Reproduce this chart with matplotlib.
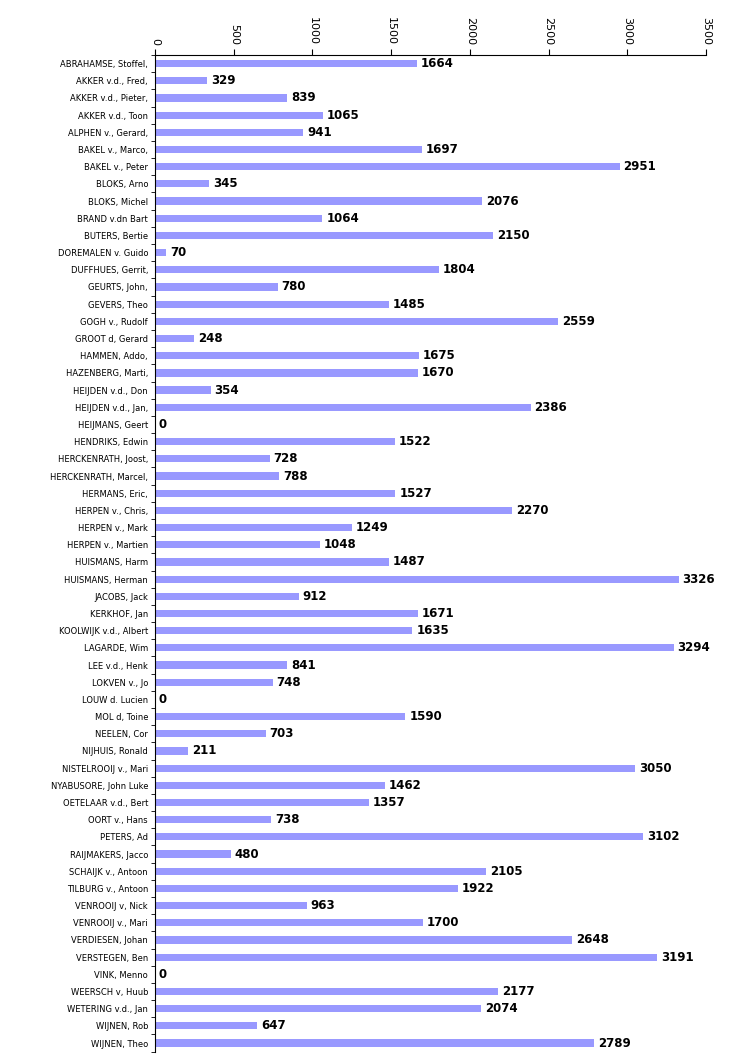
import matplotlib.pyplot as plt
import numpy as np

# Names and values, top to bottom as in the chart
names = [
    'ABRAHAMSE, Stoffel,', 'AKKER v.d., Fred,', 'AKKER v.d., Pieter,', 'AKKER v.d., Toon',
    'ALPHEN v., Gerard,', 'BAKEL v., Marco,', 'BAKEL v., Peter', 'BLOKS, Arno',
    'BLOKS, Michel', 'BRAND v.dn Bart', 'BUTERS, Bertie', 'DOREMALEN v. Guido',
    'DUFFHUES, Gerrit,', 'GEURTS, John,', 'GEVERS, Theo', 'GOGH v., Rudolf',
    'GROOT d, Gerard', 'HAMMEN, Addo,', 'HAZENBERG, Marti,', 'HEIJDEN v.d., Don',
    'HEIJDEN v.d., Jan,', 'HEIJMANS, Geert', 'HENDRIKS, Edwin', 'HERCKENRATH, Joost,',
    'HERCKENRATH, Marcel,', 'HERMANS, Eric,', 'HERPEN v., Chris,', 'HERPEN v., Mark',
    'HERPEN v., Martien', 'HUISMANS, Harm', 'HUISMANS, Herman', 'JACOBS, Jack',
    'KERKHOF, Jan', 'KOOLWIJK v.d., Albert', 'LAGARDE, Wim', 'LEE v.d., Henk',
    'LOKVEN v., Jo', 'LOUW d. Lucien', 'MOL d, Toine', 'NEELEN, Cor',
    'NIJHUIS, Ronald', 'NISTELROOIJ v., Mari', 'NYABUSORE, John Luke', 'OETELAAR v.d., Bert',
    'OORT v., Hans', 'PETERS, Ad', 'RAIJMAKERS, Jacco', 'SCHAIJK v., Antoon',
    'TILBURG v., Antoon', 'VENROOIJ v, Nick', 'VENROOIJ v., Mari', 'VERDIESEN, Johan',
    'VERSTEGEN, Ben', 'VINK, Menno', 'WEERSCH v, Huub', 'WETERING v.d., Jan',
    'WIJNEN, Rob', 'WIJNEN, Theo',
]
values = [
    1664, 329, 839, 1065, 941, 1697, 2951, 345,
    2076, 1064, 2150, 70, 1804, 780, 1485, 2559,
    248, 1675, 1670, 354, 2386, 0, 1522, 728,
    788, 1527, 2270, 1249, 1048, 1487, 3326, 912,
    1671, 1635, 3294, 841, 748, 0, 1590, 703,
    211, 3050, 1462, 1357, 738, 3102, 480, 2105,
    1922, 963, 1700, 2648, 3191, 0, 2177, 2074,
    647, 2789,
]
x_ticks = [0, 500, 1000, 1500, 2000, 2500, 3000, 3500]

fig = plt.figure(figsize=(7.36, 10.58), dpi=100)
ax = fig.add_axes([0.2106, 0.006, 0.7486, 0.942])

y = np.arange(len(names))
ax.barh(y, values, height=0.42, color='#9999FF')

# value labels, narrow bold like the original
for yi, v in zip(y, values):
    ax.text(v + 25, yi, str(v), va='center', ha='left',
            fontsize=8.5, fontweight='bold', color='black',
            family=['Liberation Sans Narrow', 'DejaVu Sans'])

ax.set_xlim(0, 3500)
ax.set_ylim(len(names) - 0.5, -0.5)

# x axis on top, rotated tick labels
ax.xaxis.tick_top()
ax.set_xticks(x_ticks)
ax.set_xticklabels([str(t) for t in x_ticks], rotation=-90, fontsize=8)
ax.tick_params(axis='x', direction='out', length=4, pad=3)

# category labels, tick marks between categories
ax.set_yticks(y)
ax.set_yticklabels(names, fontsize=6)
ax.tick_params(axis='y', which='major', length=0, pad=5)
ax.set_yticks(np.arange(len(names) + 1) - 0.5, minor=True)
ax.tick_params(axis='y', which='minor', direction='out', length=3)

for s in ['right', 'bottom']:
    ax.spines[s].set_visible(False)

plt.savefig('out.png', dpi=100)
